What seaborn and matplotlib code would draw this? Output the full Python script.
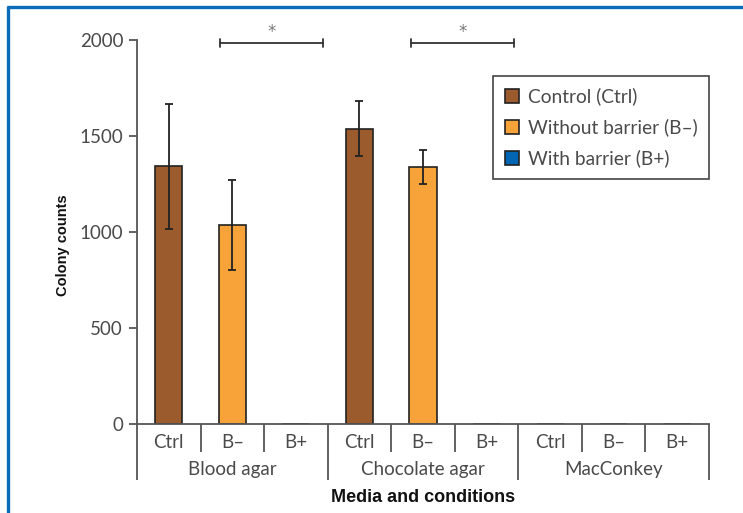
import numpy as np
import pandas as pd
import matplotlib
matplotlib.use("Agg")
import matplotlib.pyplot as plt
import matplotlib.transforms as mtransforms
from matplotlib.lines import Line2D
import seaborn as sns

# ---- data ----
media = ["Blood agar", "Chocolate agar", "MacConkey"]
conditions = ["Ctrl", "B\u2013", "B+"]
condition_labels = ["Control (Ctrl)", "Without barrier (B\u2013)", "With barrier (B+)"]
blood_means = [1342, 1035, 0]
blood_errs = [325, 235, 0]
choc_means = [1538, 1337, 0]
choc_errs = [143, 88, 0]
mac_means = [0, 0, 0]
mac_errs = [0, 0, 0]
yticks = [0, 500, 1000, 1500, 2000]
colors = ["#9C5B2C", "#F8A33A", "#0066B3"]
# significance brackets (between slot positions) and label
sig_pairs = [(0.81, 2.42), (3.81, 5.43)]
sig_label = "*"

means = [blood_means, choc_means, mac_means]
errs = [blood_errs, choc_errs, mac_errs]
rows = []
for m, mv, ev in zip(media, means, errs):
    for c, cl, v, e in zip(conditions, condition_labels, mv, ev):
        rows.append({"slot": f"{m}|{c}", "media": m, "cond": c,
                     "Condition": cl, "value": v, "err": e})
df = pd.DataFrame(rows)

sns.set_theme(style="white")
plt.rcParams["font.family"] = ["Lato", "DejaVu Sans"]

TXT = "#4a4a4a"
FS = 13.5

fig = plt.figure(figsize=(7.43, 5.13), dpi=100)
ax = fig.add_axes([137/743, 1-424/513, (709-137)/743, (424-40)/513])

sns.barplot(data=df, x="slot", y="value", hue="Condition",
            hue_order=condition_labels, palette=colors, dodge=False,
            saturation=1, width=0.425, edgecolor="#222222", linewidth=1.2,
            ax=ax, errorbar=None)

xpos = np.arange(len(df))
mask = df["err"].values > 0
ax.errorbar(xpos[mask], df["value"].values[mask], yerr=df["err"].values[mask],
            fmt="none", ecolor="#222222", elinewidth=1.3, capsize=3, capthick=1.3,
            zorder=5)

ax.set_xlim(-0.5, len(df) - 0.5)
ax.set_ylim(0, 2000)
ax.set_yticks(yticks)
ax.set_yticklabels([str(t) for t in yticks], fontsize=FS, color=TXT)
ax.set_xticks([])
ax.set_xlabel("")
for s in ["top", "right"]:
    ax.spines[s].set_visible(False)
for s in ["left", "bottom"]:
    ax.spines[s].set_color("#555555")
    ax.spines[s].set_linewidth(1.3)
ax.tick_params(axis="y", which="both", left=True, length=6, width=1.3,
               color="#555555", direction="out", pad=4)

ax.set_ylabel("Colony counts", fontsize=10.5, fontweight="bold",
              family=["Liberation Sans", "DejaVu Sans"], color="#111111")
ax.yaxis.set_label_coords(-67 / 572, 0.466)

# hierarchical x labels
trans = mtransforms.blended_transform_factory(ax.transData, ax.transAxes)
px = 1 / 384.0
for i, row in df.iterrows():
    ax.text(i, -19 * px, row["cond"], transform=trans, ha="center", va="center",
            fontsize=FS, color=TXT)
for g, m in enumerate(media):
    ax.text(g * 3 + 1, -46 * px, m, transform=trans, ha="center", va="center",
            fontsize=FS, color=TXT)
for b in range(len(df) + 1):
    xb = b - 0.5
    depth = -56 * px if b % 3 == 0 else -28 * px
    ax.plot([xb, xb], [0, depth], transform=trans, color="#555555", lw=1.3,
            clip_on=False, solid_capstyle="butt")

ax.text(0.5, -73 * px, "Media and conditions", transform=ax.transAxes,
        ha="center", va="center", fontsize=13, fontweight="bold",
        family=["Liberation Sans", "DejaVu Sans"], color="#111111")

# significance brackets
for x0, x1 in sig_pairs:
    ax.plot([x0, x1], [1986, 1986], color="#333333", lw=1.3, clip_on=False)
    for xe in (x0, x1):
        ax.plot([xe, xe], [1966, 2006], color="#333333", lw=1.3, clip_on=False)
    ax.text((x0 + x1) / 2, 2040, sig_label, ha="center", va="center",
            fontsize=12, color="#777777", clip_on=False,
            family=["DejaVu Sans"])

# legend
leg = ax.legend(loc="upper right", bbox_to_anchor=(1.0, 0.906),
                borderaxespad=0, frameon=True, fancybox=False, framealpha=1,
                edgecolor="#444444", fontsize=13.8, handlelength=0.75,
                handleheight=0.75, handletextpad=0.45, labelspacing=0.68,
                borderpad=0.6)
leg.get_frame().set_linewidth(1.2)
for t in leg.get_texts():
    t.set_color(TXT)
for h in leg.legend_handles:
    h.set_edgecolor("#222222")
    h.set_linewidth(1.2)

# blue frame (top and left edges)
fig.add_artist(Line2D([8 / 743, 8 / 743], [0, 1 - 6 / 513],
                      transform=fig.transFigure, color="#0A6BB8", lw=2.4,
                      solid_capstyle="butt"))
fig.add_artist(Line2D([6.8 / 743, 1], [1 - 7 / 513, 1 - 7 / 513],
                      transform=fig.transFigure, color="#0A6BB8", lw=2.4,
                      solid_capstyle="butt"))

fig.savefig("out.png", dpi=100)
